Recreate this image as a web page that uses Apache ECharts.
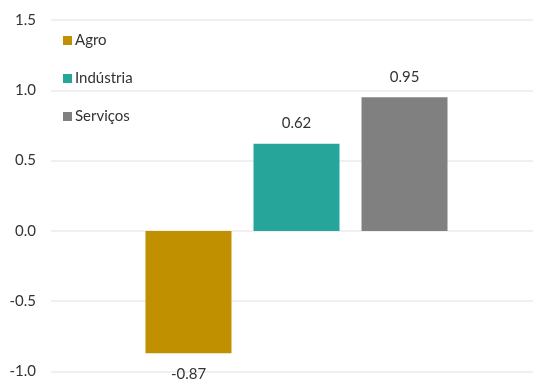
<!DOCTYPE html>
<html><head><meta charset="utf-8">
<script src="https://cdn.jsdelivr.net/npm/echarts@6/dist/echarts.min.js"></script>
<style>html,body{margin:0;padding:0;background:#fff;overflow:hidden;width:533px;height:379px}#c{width:542px;height:379px}</style>
</head><body><div id="c"></div>
<script>
const seriesNames = ['Agro', 'Indústria', 'Serviços'];
const seriesValues = [-0.87, 0.62, 0.95];
const seriesColors = ['#C09000', '#26A69A', '#808080'];
const yTicks = [-1.0, -0.5, 0.0, 0.5, 1.0, 1.5];

const chart = echarts.init(document.getElementById('c'), null, {renderer: 'canvas'});
const font = 'Lato, "Open Sans", sans-serif';
chart.setOption({
  animation: false,
  textStyle: {fontFamily: font},
  grid: {left: 51, right: 0, top: 20, bottom: 6, containLabel: false},
  legend: {
    orient: 'vertical', left: 58, top: 28, itemWidth: 9, itemHeight: 9, itemGap: 23,
    icon: 'rect', data: seriesNames,
    textStyle: {fontFamily: font, fontSize: 15, color: '#333', padding: [0, 0, 0, -2]}
  },
  xAxis: {type: 'category', data: [''], axisLine: {show: false}, axisTick: {show: false}, axisLabel: {show: false}},
  yAxis: {
    type: 'value', min: yTicks[0], max: yTicks[yTicks.length - 1], interval: 0.5,
    axisLine: {show: false}, axisTick: {show: false},
    axisLabel: {margin: 15, fontSize: 15, color: '#333', fontFamily: font, formatter: v => v.toFixed(1)},
    splitLine: {lineStyle: {color: '#f0f0f0', width: 2}}
  },
  series: seriesNames.map((n, i) => ({
    name: n, type: 'bar', barWidth: 86, barGap: '25.6%',
    itemStyle: {color: seriesColors[i]},
    data: [seriesValues[i]],
    label: {show: true, position: seriesValues[i] < 0 ? 'bottom' : 'top', distance: 13,
      fontSize: 15, color: '#333', fontFamily: font, formatter: p => p.value.toFixed(2)}
  }))
});
</script></body></html>
